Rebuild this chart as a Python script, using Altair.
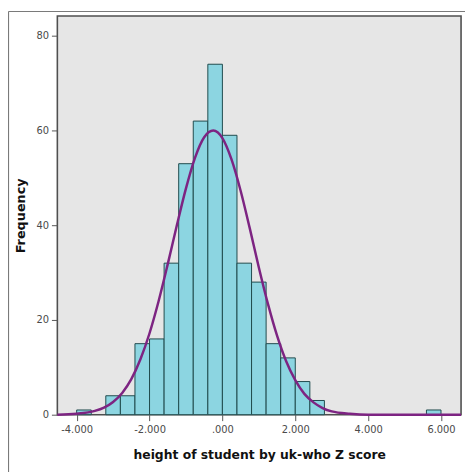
import altair as alt
import pandas as pd

# Histogram bins (start, end) and counts
bin_start = [-4.0, -3.2, -2.8, -2.4, -2.0, -1.6, -1.2, -0.8, -0.4, 0.0, 0.4, 0.8, 1.2, 1.6, 2.0, 2.4, 5.6]
bin_end = [-3.6, -2.8, -2.4, -2.0, -1.6, -1.2, -0.8, -0.4, 0.0, 0.4, 0.8, 1.2, 1.6, 2.0, 2.4, 2.8, 6.0]
counts = [1, 4, 4, 15, 16, 32, 53, 62, 74, 59, 32, 28, 15, 12, 7, 3, 1]

# Normal curve points
curve_x = [-4.53, -4.0, -3.5, -3.25, -3.0, -2.75, -2.5, -2.25, -2.0, -1.75, -1.5, -1.25, -1.0,
           -0.75, -0.5, -0.25, 0.0, 0.25, 0.5, 0.75, 1.0, 1.25, 1.5, 1.75, 2.0, 2.25, 2.5,
           2.75, 3.0, 3.5, 4.0, 5.0, 6.55]
curve_y = [0.0, 0.2, 0.8, 1.5, 2.7, 4.6, 7.5, 11.7, 17.2, 24.0, 31.8, 40.0, 47.8,
           54.3, 58.6, 60.0, 58.4, 53.9, 47.3, 39.4, 31.1, 23.4, 16.7, 11.3, 7.3, 4.4, 2.6,
           1.4, 0.7, 0.2, 0.0, 0.0, 0.0]

x_ticks = [-4, -2, 0, 2, 4, 6]
y_ticks = [0, 20, 40, 60, 80]

bars_df = pd.DataFrame({"start": bin_start, "end": bin_end, "count": counts})
curve_df = pd.DataFrame({"x": curve_x, "y": curve_y})

xscale = alt.Scale(domain=[-4.53, 6.55], nice=False, zero=False)
yscale = alt.Scale(domain=[0, 84.2], nice=False)

label_font = "DejaVu Sans"

xaxis = alt.Axis(
    values=x_ticks,
    labelExpr="datum.value == 0 ? '.000' : (datum.value < 0 ? '-' : '') + format(abs(datum.value), '.3f')",
    title="height of student by uk-who Z score",
    grid=False, domain=False, tickSize=6, tickColor="#555555",
    labelFont=label_font, labelFontSize=10, labelColor="#4a4a4a", labelPadding=4,
    titleFont=label_font, titleFontSize=12.5, titleFontWeight="bold", titleColor="#111111",
    titlePadding=14,
)
yaxis = alt.Axis(
    values=y_ticks, title="Frequency",
    grid=False, domain=False, tickSize=6, tickColor="#555555",
    labelFont=label_font, labelFontSize=10, labelColor="#4a4a4a", labelPadding=3,
    titleFont=label_font, titleFontSize=13, titleFontWeight="bold", titleColor="#111111",
    titlePadding=9,
)

bars = alt.Chart(bars_df).mark_rect(
    fill="#8cd5e1", stroke="#1f4a4c", strokeWidth=1
).encode(
    x=alt.X("start:Q", scale=xscale, axis=xaxis),
    x2="end:Q",
    y=alt.Y("count:Q", scale=yscale, axis=yaxis),
    y2=alt.datum(0),
)

curve = alt.Chart(curve_df).mark_line(
    color="#7d2482", strokeWidth=2.5, interpolate="monotone"
).encode(
    x=alt.X("x:Q", scale=xscale),
    y=alt.Y("y:Q", scale=yscale),
)

frame_left = alt.Chart(pd.DataFrame({"a": [0]})).mark_rule(
    color="#7a7a7a", strokeWidth=1.2
).encode(x=alt.value(-49.5), y=alt.value(-4.5), y2=alt.value(470))

frame_top = alt.Chart(pd.DataFrame({"a": [0]})).mark_rule(
    color="#7a7a7a", strokeWidth=1.2
).encode(x=alt.value(-49.5), x2=alt.value(420), y=alt.value(-4.5))

chart = alt.layer(bars, curve, frame_left, frame_top).properties(
    width=409, height=404,
    autosize=alt.AutoSizeParams(type="none"),
    padding={"left": 50, "top": 5, "right": 4, "bottom": 55},
    background="white",
).configure_view(
    fill="#e6e6e6", stroke="#4f4f4f", strokeWidth=1.6
)

chart.save("out.html", embed_options={"renderer": "svg", "actions": False})
